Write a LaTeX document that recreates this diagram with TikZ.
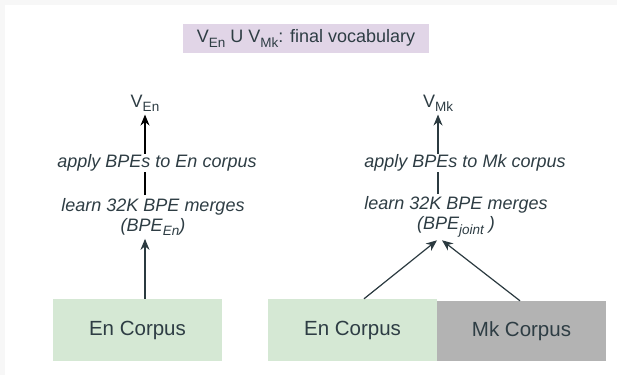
\documentclass[tikz,border=0pt]{standalone}
\usepackage{fontspec}
\setmainfont{Liberation Sans}
\usetikzlibrary{arrows.meta,calc}
\definecolor{txtc}{HTML}{2E3D44}
\definecolor{linec}{HTML}{2B3A40}
\definecolor{titlefill}{HTML}{E1D5E7}
\definecolor{greenfill}{HTML}{D5E8D4}
\definecolor{grayfill}{HTML}{B3B3B3}
\definecolor{bgc}{HTML}{F7F7F7}
\newcommand{\mysubs}[1]{\raisebox{-4.3pt}{\fontsize{13.5}{14}\selectfont #1}}
\tikzset{
  lbl/.style={font=\fontsize{18}{20}\selectfont, text=txtc, inner sep=0pt},
  ilbl/.style={font=\fontsize{18}{20}\selectfont\itshape, text=txtc, align=center},
  corpus/.style={font=\fontsize{20.5}{22}\selectfont, text=txtc, minimum width=169pt, inner sep=0pt},
  arr/.style={draw=linec, line width=1.2pt, -{Stealth[length=11pt,width=9pt]}},
  plain/.style={draw=linec, line width=1.2pt},
}
\begin{document}
\begin{tikzpicture}[x=1pt,y=-1pt]
\useasboundingbox (0,0) rectangle (617,375);
\fill[bgc] (0,0) rectangle (617,375);
\fill[white] (5,5) rectangle (617,375);

% title
\node[lbl, fill=titlefill, minimum width=246pt, minimum height=29pt] (title) at (306,38.5)
  {V\mysubs{En} U V\mysubs{Mk}: final vocabulary};

% corpora
\node[corpus, fill=greenfill, minimum height=62pt] (enL) at (137.5,330) {En Corpus};
\node[corpus, fill=greenfill, minimum height=62pt] (enR) at (352.5,330) {En Corpus};
\node[corpus, fill=grayfill, minimum height=60pt] (mk) at (521.5,331) {Mk Corpus};

% left column
\node[lbl, inner ysep=3pt] (VEn) at (145,103) {V\mysubs{En}};
\node[ilbl, inner sep=0pt, inner ysep=3pt] (learnL) at (153,217) {learn 32K BPE merges\\(BPE\mysubs{En})};
\draw[arr, draw=black] (VEn |- learnL.north) -- (VEn.south);
\node[ilbl, fill=white, inner sep=0.5pt] (applyL) at (157,163) {apply BPEs to En corpus};
\draw[arr] (VEn |- enL.north) -- (VEn |- learnL.south);

% right column
\node[lbl, inner ysep=3pt] (VMk) at (438,103) {V\mysubs{Mk}};
\node[ilbl, inner sep=0pt, inner ysep=3pt] (learnR) at (456,217) {learn 32K BPE merges\\(BPE\mysubs{joint} )};
\draw[arr] (VMk |- learnR.north) -- (VMk.south);
\node[ilbl, fill=white, inner sep=0.5pt] (applyR) at (465,163) {apply BPEs to Mk corpus};
\draw[arr] ([xshift=11.5pt]enR.north) -- ([xshift=-1pt]VMk |- learnR.south);
\draw[arr] ([xshift=-1.5pt]mk.north) -- ([xshift=4pt]VMk |- learnR.south);
\end{tikzpicture}
\end{document}
